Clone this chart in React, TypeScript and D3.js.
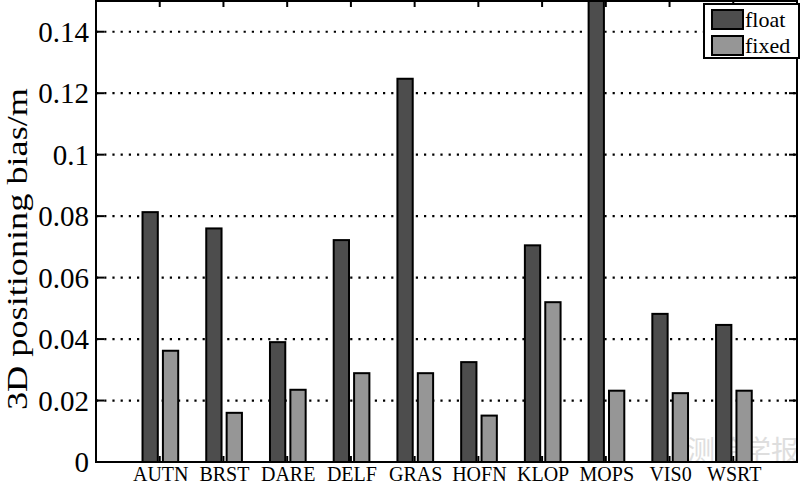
import * as d3 from "d3";
import { useEffect, useRef } from "react";

// stations and 3D positioning bias (m)
const stations = ["AUTN", "BRST", "DARE", "DELF", "GRAS", "HOFN", "KLOP", "MOPS", "VIS0", "WSRT"];
const floatBias = [0.0813, 0.076, 0.039, 0.0722, 0.1247, 0.0325, 0.0705, 0.16, 0.0482, 0.0446];
const fixedBias = [0.0362, 0.016, 0.0235, 0.0289, 0.0289, 0.0151, 0.052, 0.0232, 0.0224, 0.0232];
const yTicks = [0, 0.02, 0.04, 0.06, 0.08, 0.1, 0.12, 0.14];
const yTickLabels = ["0", "0.02", "0.04", "0.06", "0.08", "0.1", "0.12", "0.14"];

const W = 800;
const H = 484;
const left = 96;
const right = 797;
const top = 1;
const bottom = 462;

export default function App() {
  const ref = useRef<SVGSVGElement>(null);

  useEffect(() => {
    const svg = d3.select(ref.current);
    svg.selectAll("*").remove();
    const font = "'Liberation Serif', 'Times New Roman', serif";

    const x = d3.scaleLinear().domain([0, stations.length + 1]).range([left, right]);
    const y = d3.scaleLinear().domain([0, 0.15]).range([bottom, top]);

    svg.append("rect").attr("width", W).attr("height", H).attr("fill", "white");

    // journal watermark (behind everything)
    svg
      .append("text")
      .attr("x", 799)
      .attr("y", 461)
      .attr("text-anchor", "end")
      .attr("font-family", "'Noto Sans CJK SC', sans-serif")
      .attr("font-size", 28)
      .attr("fill", "#dedede")
      .text("测绘学报");

    svg
      .append("defs")
      .append("clipPath")
      .attr("id", "plotclip")
      .append("rect")
      .attr("x", left)
      .attr("y", top)
      .attr("width", right - left)
      .attr("height", bottom - top);

    // dotted grid
    svg
      .append("g")
      .selectAll("line")
      .data(yTicks.slice(1))
      .join("line")
      .attr("x1", left)
      .attr("x2", right)
      .attr("y1", (d) => y(d))
      .attr("y2", (d) => y(d))
      .attr("stroke", "#000")
      .attr("stroke-width", 2.2)
      .attr("stroke-dasharray", "2.2,6");

    const plot = svg.append("g").attr("clip-path", "url(#plotclip)");
    const idx = d3.range(stations.length);

    plot
      .selectAll("rect.float")
      .data(idx)
      .join("rect")
      .attr("class", "float")
      .attr("x", (i) => x(i + 1 - 0.27))
      .attr("width", x(0.24) - x(0))
      .attr("y", (i) => y(floatBias[i]))
      .attr("height", (i) => bottom - y(floatBias[i]))
      .attr("fill", "#4d4d4d")
      .attr("stroke", "#000")
      .attr("stroke-width", 2);

    plot
      .selectAll("rect.fixed")
      .data(idx)
      .join("rect")
      .attr("class", "fixed")
      .attr("x", (i) => x(i + 1 + 0.05))
      .attr("width", x(0.24) - x(0))
      .attr("y", (i) => y(fixedBias[i]))
      .attr("height", (i) => bottom - y(fixedBias[i]))
      .attr("fill", "#969696")
      .attr("stroke", "#000")
      .attr("stroke-width", 2);

    // axes box
    svg
      .append("rect")
      .attr("x", left)
      .attr("y", top)
      .attr("width", right - left)
      .attr("height", bottom - top)
      .attr("fill", "none")
      .attr("stroke", "#000")
      .attr("stroke-width", 2);

    // ticks, inward on all four sides
    const tk = svg.append("g").attr("stroke", "#000").attr("stroke-width", 2);
    yTicks.forEach((t) => {
      tk.append("line").attr("x1", left).attr("x2", left + 8).attr("y1", y(t)).attr("y2", y(t));
      tk.append("line").attr("x1", right - 8).attr("x2", right).attr("y1", y(t)).attr("y2", y(t));
    });
    idx.forEach((i) => {
      tk.append("line").attr("x1", x(i + 1)).attr("x2", x(i + 1)).attr("y1", bottom).attr("y2", bottom - 6);
      tk.append("line").attr("x1", x(i + 1)).attr("x2", x(i + 1)).attr("y1", top).attr("y2", top + 6);
    });

    svg
      .append("g")
      .selectAll("text")
      .data(yTicks)
      .join("text")
      .attr("x", left - 7)
      .attr("y", (d) => y(d) + 10)
      .attr("text-anchor", "end")
      .attr("font-family", font)
      .attr("font-size", 29)
      .text((d, i) => yTickLabels[i]);

    svg
      .append("g")
      .selectAll("text")
      .data(stations)
      .join("text")
      .attr("x", (d, i) => x(i + 1) + 1)
      .attr("y", 481)
      .attr("text-anchor", "middle")
      .attr("font-family", font)
      .attr("font-size", 20)
      .text((d) => d);

    svg
      .append("text")
      .attr("transform", `translate(27,249) rotate(-90)`)
      .attr("text-anchor", "middle")
      .attr("font-family", font)
      .attr("font-size", 30)
      .attr("textLength", 322)
      .attr("lengthAdjust", "spacingAndGlyphs")
      .text("3D positioning bias/m");

    // legend
    const lg = svg.append("g");
    lg.append("rect")
      .attr("x", 704)
      .attr("y", 4)
      .attr("width", 95)
      .attr("height", 54)
      .attr("fill", "white")
      .attr("stroke", "#000")
      .attr("stroke-width", 2);
    const items: [string, string][] = [
      ["float", "#4d4d4d"],
      ["fixed", "#969696"],
    ];
    items.forEach(([name, color], k) => {
      lg.append("rect")
        .attr("x", 712)
        .attr("y", 10 + k * 26)
        .attr("width", 31)
        .attr("height", 19)
        .attr("fill", color)
        .attr("stroke", "#000")
        .attr("stroke-width", 2);
      lg.append("text")
        .attr("x", 745)
        .attr("y", 27 + k * 26)
        .attr("font-family", font)
        .attr("font-size", 22)
        .text(name);
    });
  }, []);

  return (
    <svg
      ref={ref}
      width={W}
      height={H}
      style={{ position: "absolute", left: 0, top: 0, display: "block" }}
    />
  );
}
